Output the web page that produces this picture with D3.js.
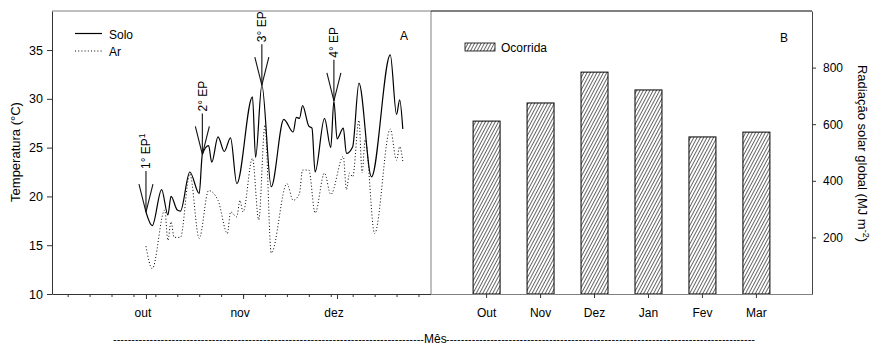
<!DOCTYPE html>
<html>
<head>
<meta charset="utf-8">
<script src="https://cdn.jsdelivr.net/npm/d3@7"></script>
<style>
  body { margin: 0; background: #fff; }
  svg { display: block; font-family: "Liberation Sans", Arial, sans-serif; }
</style>
</head>
<body>
<svg id="chart" width="873" height="345"></svg>
<script>
"use strict";

// painel A: temperatura do solo e do ar (mes-dia)
const soloDatas = ["10-01","10-03","10-06","10-08","10-09","10-11","10-12","10-15","10-18","10-19",
  "10-21","10-22","10-24","10-26","10-28","10-30","11-04","11-05","11-07","11-10",
  "11-14","11-17","11-18","11-19","11-20","11-22","11-23","11-24","11-27","11-29",
  "11-30","12-01","12-03","12-04","12-06","12-08","12-12","12-18","12-20","12-21","12-22"];
const soloTemp = [18.4,17.0,20.7,18.1,20.0,18.6,18.5,22.5,20.3,24.3,
  25.2,23.5,26.1,24.6,26.0,21.3,30.2,24.0,31.4,21.0,
  27.9,26.6,28.1,28.0,29.3,27.2,27.0,22.5,28.0,25.0,
  29.8,25.9,27.0,24.4,25.1,31.6,22.0,34.5,28.4,29.9,26.9];

const arDatas = ["10-01","10-03","10-07","10-08","10-09","10-10","10-12","10-15","10-18","10-21",
  "10-24","10-27","10-28","10-30","10-31","11-01","11-04","11-06","11-08","11-10",
  "11-15","11-17","11-19","11-20","11-22","11-24","11-27","11-29","12-03","12-04",
  "12-05","12-06","12-08","12-09","12-10","12-13","12-18","12-20","12-21","12-22"];
const arTemp = [14.9,12.6,18.6,15.5,17.4,15.8,15.8,22.3,15.7,20.6,
  19.6,16.2,18.4,17.9,19.6,18.4,23.9,17.6,27.3,14.2,
  21.3,19.6,20.3,22.7,22.7,18.3,22.4,20.2,24.1,20.7,
  22.4,22.0,27.8,22.4,25.8,16.2,26.9,23.7,25.1,23.6];

// epocas de plantio (setas)
const epDatas = ["10-01","10-19","11-07","11-30"];
const epRotulos = ["1° EP","2° EP","3° EP","4° EP"];

const mesesA = ["out","nov","dez"];
const mesesADatas = ["10-01","11-01","12-01"];
const tempTicks = [10,15,20,25,30,35];

// painel B: radiacao solar global
const mesesB = ["Out","Nov","Dez","Jan","Fev","Mar"];
const radiacao = [611,675,784,721,555,572];
const radTicks = [200,400,600,800];

const ano = 2010;
const parseData = s => { const p = s.split("-"); return new Date(ano, +p[0] - 1, +p[1]); };

const svg = d3.select("#chart");
svg.append("rect").attr("width", 873).attr("height", 345).attr("fill", "#fff");

const yTop = 11, yBase = 294;
const aLeft = 52, aRight = 431, bRight = 812;
const fs = 12;

// ---------- painel A ----------
const x = d3.scaleTime().domain([new Date(ano, 8, 1), new Date(ano, 11, 31)]).range([aLeft, aRight]);
const y = d3.scaleLinear().domain([10, 39]).range([yBase, yTop]);

// moldura cinza do painel A
svg.append("line").attr("x1", aLeft).attr("x2", aRight).attr("y1", yTop).attr("y2", yTop)
  .attr("stroke", "#808080");
svg.append("line").attr("x1", aRight).attr("x2", aRight).attr("y1", yTop).attr("y2", yBase)
  .attr("stroke", "#808080");

const gy = svg.append("g").attr("transform", "translate(" + aLeft + ",0)")
  .call(d3.axisLeft(y).tickValues(tempTicks).tickSize(5).tickSizeOuter(0).tickPadding(4));
gy.selectAll("text").attr("font-size", 12.5).attr("font-family", null).attr("fill", "#000");
gy.selectAll("line").attr("stroke", "#333");
gy.select(".domain").attr("stroke", "#333");

// ticks semanais
const semanas = d3.timeDay.range(new Date(ano, 8, 6), new Date(ano, 11, 31), 7);
const gxm = svg.append("g").attr("transform", "translate(0," + yBase + ")")
  .call(d3.axisBottom(x).tickValues(semanas).tickFormat("").tickSize(3).tickSizeOuter(0));
gxm.selectAll("line").attr("stroke", "#333");
gxm.select(".domain").attr("stroke", "#333");

const gx = svg.append("g").attr("transform", "translate(0," + yBase + ")")
  .call(d3.axisBottom(x).tickValues(mesesADatas.map(parseData))
    .tickFormat((d, i) => mesesA[i]).tickSize(5).tickSizeOuter(0).tickPadding(9.5));
gx.select(".domain").remove();
gx.selectAll("line").attr("stroke", "#333");
gx.selectAll("text").attr("font-size", fs).attr("font-family", null).attr("fill", "#000").attr("x", -3.5);

const linha = d3.line().x(d => x(d.data)).y(d => y(d.t)).curve(d3.curveMonotoneX);
const solo = soloDatas.map((s, i) => ({ data: parseData(s), t: soloTemp[i] }));
const ar = arDatas.map((s, i) => ({ data: parseData(s), t: arTemp[i] }));

svg.append("path").datum(ar).attr("d", linha).attr("fill", "none")
  .attr("stroke", "#000").attr("stroke-width", 1).attr("stroke-dasharray", "1,2.2");
svg.append("path").datum(solo).attr("d", linha).attr("fill", "none")
  .attr("stroke", "#000").attr("stroke-width", 1.2);

// setas das epocas
epDatas.forEach((s, i) => {
  const k = soloDatas.indexOf(s);
  const px = x(parseData(s)), py = y(soloTemp[k]);
  const g = svg.append("g").attr("stroke", "#111").attr("stroke-width", 1.1);
  g.append("line").attr("x1", px).attr("x2", px).attr("y1", py - 41).attr("y2", py);
  g.append("line").attr("x1", px - 7).attr("x2", px).attr("y1", py - 28).attr("y2", py);
  g.append("line").attr("x1", px + 7).attr("x2", px).attr("y1", py - 28).attr("y2", py);
  const tx = px + 4.3, ty = py - 43;
  const t = svg.append("text").attr("x", tx).attr("y", ty).attr("font-size", fs)
    .attr("transform", "rotate(-90," + tx + "," + ty + ")").text(epRotulos[i]);
  if (i === 0) t.append("tspan").attr("dy", -5).attr("font-size", 8.5).text("1");
});

// legenda A
svg.append("line").attr("x1", 75).attr("x2", 102).attr("y1", 33.5).attr("y2", 33.5)
  .attr("stroke", "#000").attr("stroke-width", 1.2);
svg.append("line").attr("x1", 75).attr("x2", 102).attr("y1", 51).attr("y2", 51)
  .attr("stroke", "#000").attr("stroke-dasharray", "1,2.2");
svg.append("text").attr("x", 109).attr("y", 38.5).attr("font-size", fs).text("Solo");
svg.append("text").attr("x", 109).attr("y", 55.5).attr("font-size", fs).text("Ar");
svg.append("text").attr("x", 400).attr("y", 39.5).attr("font-size", fs).text("A");

svg.append("text").attr("transform", "translate(19.5,152) rotate(-90)")
  .attr("text-anchor", "middle").attr("font-size", 13).text("Temperatura (°C)");

// ---------- painel B ----------
const xb = d3.scaleBand().domain(mesesB).range([aRight, bRight]).paddingInner(0.5).paddingOuter(0.78);
const yb = d3.scaleLinear().domain([0, 1000]).range([yBase, yTop]);

const defs = svg.append("defs");
const pat = defs.append("pattern").attr("id", "hatch").attr("patternUnits", "userSpaceOnUse")
  .attr("width", 2.9).attr("height", 8).attr("patternTransform", "rotate(28)");
pat.append("rect").attr("width", 2.9).attr("height", 8).attr("fill", "#fff");
pat.append("line").attr("x1", 1.45).attr("x2", 1.45).attr("y1", 0).attr("y2", 8)
  .attr("stroke", "#000").attr("stroke-width", 0.6);

svg.append("line").attr("x1", aRight).attr("x2", bRight).attr("y1", yTop).attr("y2", yTop)
  .attr("stroke", "#000");

svg.selectAll("rect.bar").data(radiacao).enter().append("rect").attr("class", "bar")
  .attr("x", (d, i) => xb(mesesB[i])).attr("width", xb.bandwidth())
  .attr("y", d => yb(d)).attr("height", d => yBase - yb(d))
  .attr("fill", "url(#hatch)").attr("stroke", "#000").attr("stroke-width", 1);

const gxb = svg.append("g").attr("transform", "translate(0," + yBase + ")")
  .call(d3.axisBottom(xb).tickSize(4).tickSizeOuter(0).tickPadding(10.5));
gxb.select(".domain").attr("stroke", "#808080");
gxb.selectAll("line").attr("stroke", "#333");
gxb.selectAll("text").attr("font-size", fs).attr("font-family", null).attr("fill", "#000");

const gyb = svg.append("g").attr("transform", "translate(" + bRight + ",0)")
  .call(d3.axisRight(yb).tickValues(radTicks).tickSize(4).tickSizeOuter(0).tickPadding(7));
gyb.select(".domain").attr("stroke", "#444");
gyb.selectAll("line").attr("stroke", "#333");
gyb.selectAll("text").attr("font-size", fs).attr("font-family", null).attr("fill", "#000");

// legenda B
svg.append("rect").attr("x", 465).attr("y", 43).attr("width", 30).attr("height", 8)
  .attr("fill", "url(#hatch)").attr("stroke", "#000").attr("stroke-width", 0.8);
svg.append("text").attr("x", 501).attr("y", 51.5).attr("font-size", fs).text("Ocorrida");
svg.append("text").attr("x", 780).attr("y", 42).attr("font-size", fs).text("B");

const tituloB = svg.append("text").attr("transform", "translate(858,153.5) rotate(90)")
  .attr("text-anchor", "middle").attr("font-size", 13);
tituloB.append("tspan").text("Radiação solar global (MJ m");
tituloB.append("tspan").attr("dy", -5).attr("font-size", 9).text("-2");
tituloB.append("tspan").attr("dy", 5).text(")");

// ---------- eixo comum: Mes ----------
const tracos = n => "-".repeat(n);
svg.append("text").attr("x", 113).attr("y", 342.5).attr("font-size", 11)
  .attr("textLength", 311).attr("lengthAdjust", "spacing").text(tracos(85));
svg.append("text").attr("x", 424).attr("y", 342.5).attr("font-size", 12).text("Mês");
svg.append("text").attr("x", 446).attr("y", 342.5).attr("font-size", 11)
  .attr("textLength", 309).attr("lengthAdjust", "spacing").text(tracos(84));
</script>
</body>
</html>
